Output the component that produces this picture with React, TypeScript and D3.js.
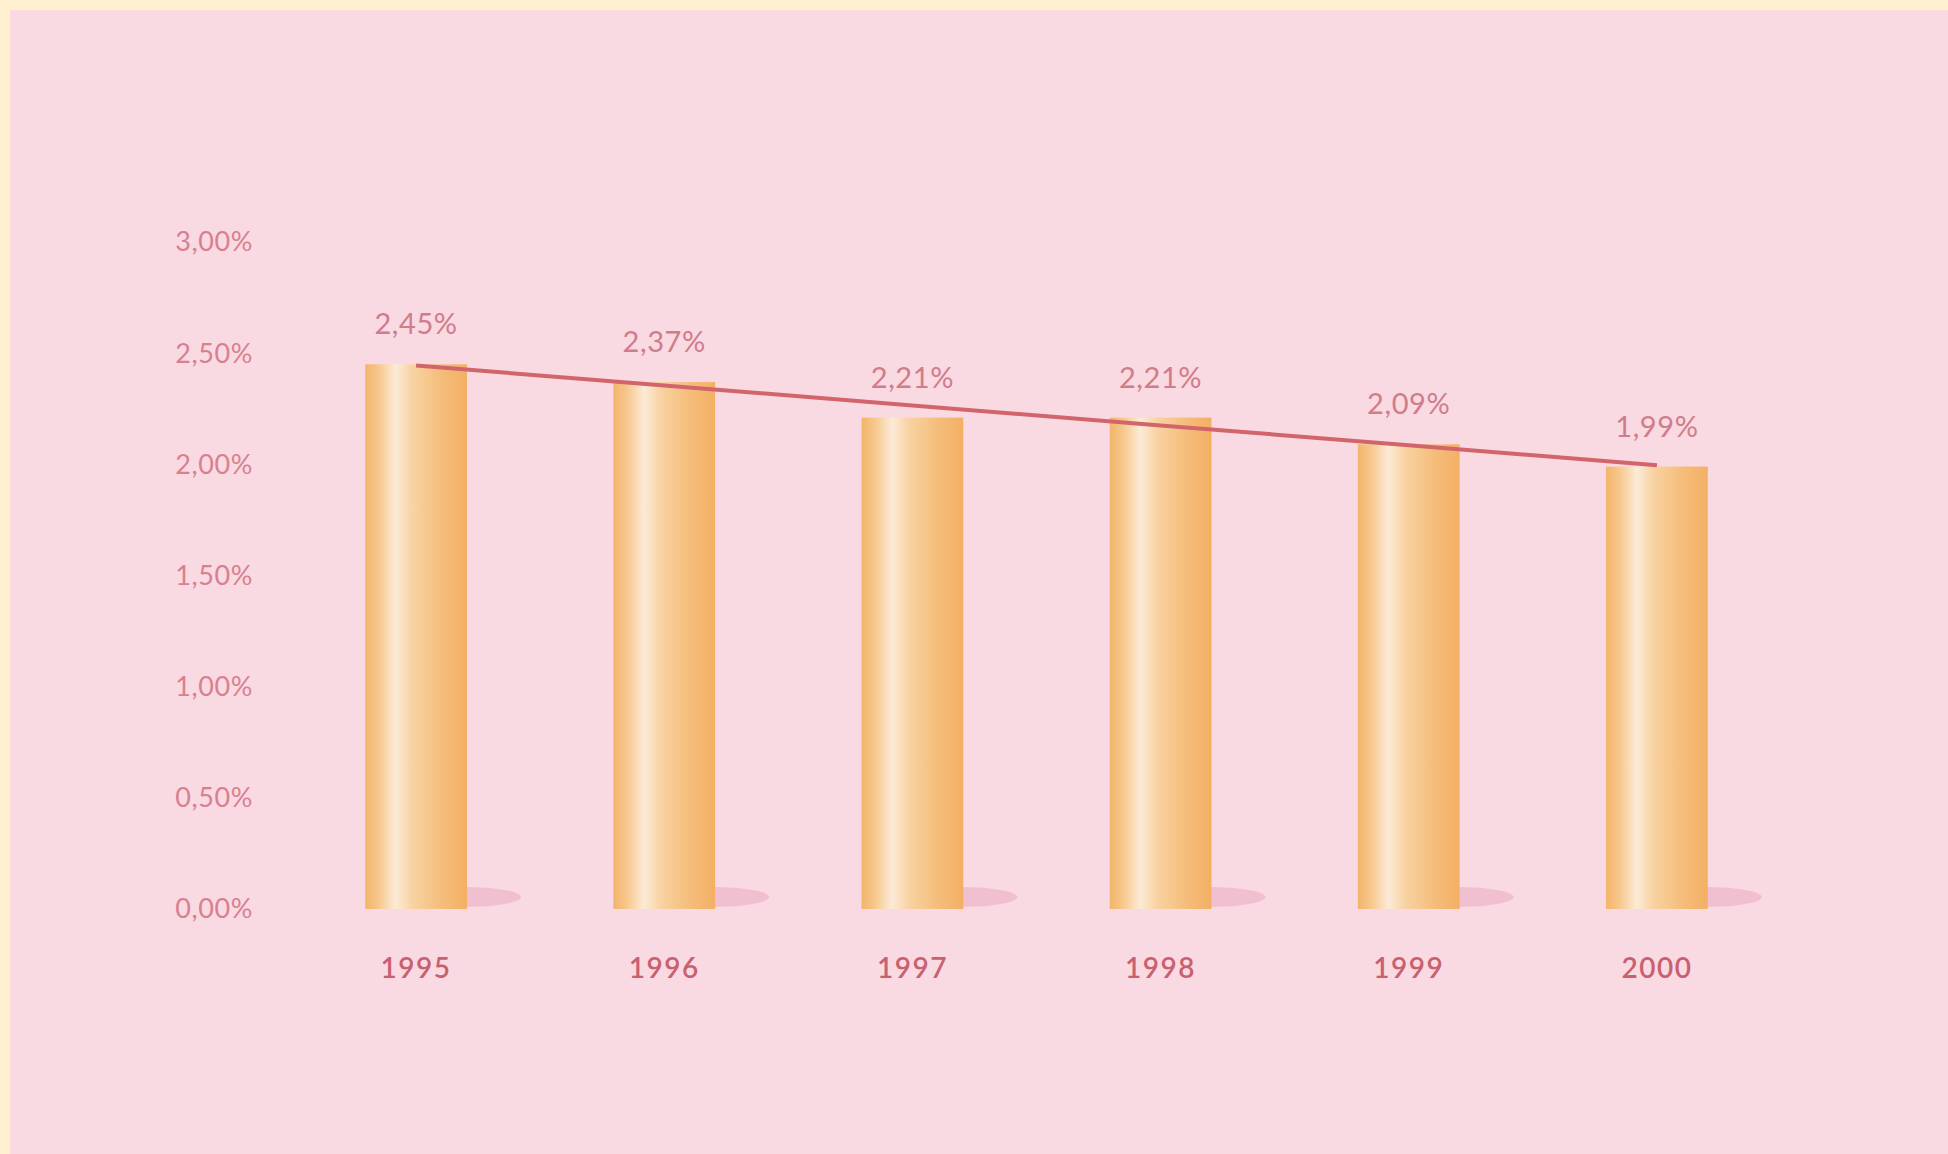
import * as d3 from "d3";

const years = ["1995", "1996", "1997", "1998", "1999", "2000"];
const rates = [2.45, 2.37, 2.21, 2.21, 2.09, 1.99];
const rateLabels = ["2,45%", "2,37%", "2,21%", "2,21%", "2,09%", "1,99%"];
const yTicks = [0, 0.5, 1, 1.5, 2, 2.5, 3];
const yTickLabels = ["0,00%", "0,50%", "1,00%", "1,50%", "2,00%", "2,50%", "3,00%"];

const W = 1948;
const H = 1154;
const font = "Lato, 'Open Sans', sans-serif";

const App = () => {
  // scales
  const x = d3.scaleBand().domain(years).range([292, 1781]).paddingInner(0.59).paddingOuter(0.295);
  const y = d3.scaleLinear().domain([0, 3]).range([909, 242]);

  // linear trend across the years
  const idx = d3.range(years.length);
  const mx = d3.mean(idx) as number;
  const my = d3.mean(rates) as number;
  const slope =
    d3.sum(idx, (i) => (i - mx) * (rates[i] - my)) / d3.sum(idx, (i) => (i - mx) * (i - mx));
  const trend = (i: number) => my + slope * (i - mx);
  const cx = (i: number) => (x(years[i]) as number) + x.bandwidth() / 2;
  const line = d3
    .line<number>()
    .x((i) => cx(i))
    .y((i) => y(trend(i)));

  const bw = x.bandwidth();

  return (
    <div style={{ position: "absolute", left: 0, top: 0 }}>
      <svg width={W} height={H} style={{ display: "block" }}>
        <defs>
          <linearGradient id="barGrad" x1="0" x2="1" y1="0" y2="0">
            <stop offset="0%" stopColor="#f3b46a" />
            <stop offset="14%" stopColor="#f7c98f" />
            <stop offset="30%" stopColor="#fcebd8" />
            <stop offset="46%" stopColor="#f8d3a3" />
            <stop offset="75%" stopColor="#f5bd7a" />
            <stop offset="100%" stopColor="#f3b064" />
          </linearGradient>
        </defs>
        <rect x={0} y={0} width={W} height={H} fill="#fff0cf" />
        <rect x={10} y={10} width={W - 10} height={H - 10} fill="#f9d9e2" />

        {/* y axis labels */}
        {yTicks.map((t, i) => (
          <text
            key={t}
            x={253}
            y={y(t)}
            dy="0.35em"
            textAnchor="end"
            fontFamily={font}
            fontSize={27}
            letterSpacing={0.6}
            fill="#d8808f"
          >
            {yTickLabels[i]}
          </text>
        ))}

        {/* shadows */}
        {years.map((yr) => (
          <ellipse
            key={"s" + yr}
            cx={(x(yr) as number) + bw - 2}
            cy={897}
            rx={56}
            ry={10}
            fill="#f1c0d0"
          />
        ))}

        {/* bars */}
        {years.map((yr, i) => (
          <rect
            key={yr}
            x={x(yr)}
            y={y(rates[i])}
            width={bw}
            height={y(0) - y(rates[i])}
            fill="url(#barGrad)"
          />
        ))}

        {/* trend line */}
        <path d={line(idx) as string} fill="none" stroke="#d2646c" strokeWidth={4} />

        {/* value labels */}
        {years.map((yr, i) => (
          <text
            key={"v" + yr}
            x={cx(i)}
            y={y(rates[i]) - 30}
            textAnchor="middle"
            fontFamily={font}
            fontSize={29}
            letterSpacing={0.6}
            fill="#d07c8a"
          >
            {rateLabels[i]}
          </text>
        ))}

        {/* year labels */}
        {years.map((yr, i) => (
          <text
            key={"y" + yr}
            x={cx(i)}
            y={978}
            textAnchor="middle"
            fontFamily={font}
            fontWeight={600}
            fontSize={28}
            letterSpacing={1.5}
            fill="#c8606e"
          >
            {yr}
          </text>
        ))}
      </svg>
    </div>
  );
};

export default App;
